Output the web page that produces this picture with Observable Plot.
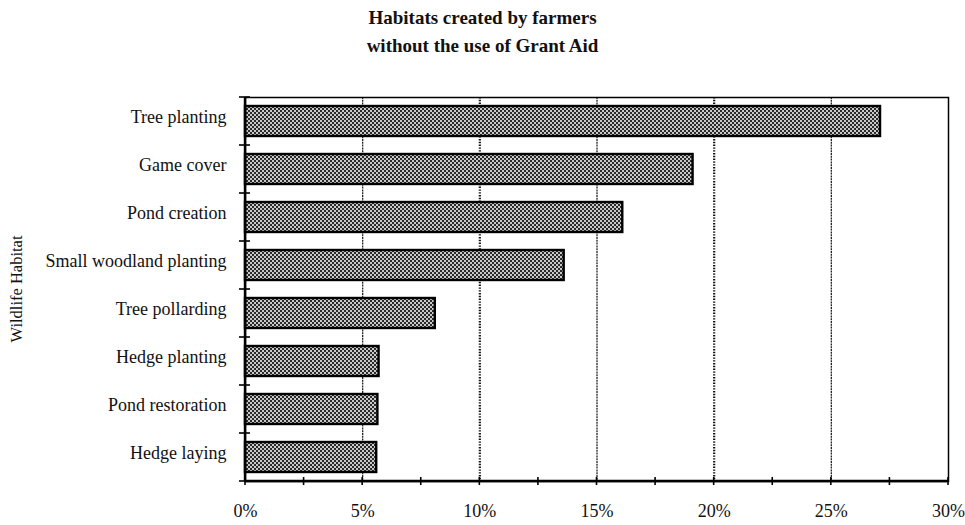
<!DOCTYPE html>
<html>
<head>
<meta charset="utf-8">
<script src="https://cdn.jsdelivr.net/npm/d3@7"></script>
<script src="https://cdn.jsdelivr.net/npm/@observablehq/plot@0.6"></script>
<style>
  body { margin: 0; background: #fff; }
  #title {
    width: 965px; height: 62px; box-sizing: border-box; padding-top: 4px;
    text-align: center; font: bold 19px/28px "Liberation Serif", "Times New Roman", serif;
    color: #111;
  }
</style>
</head>
<body>
<div id="title">Habitats created by farmers<br>without the use of Grant Aid</div>
<div id="chart"></div>
<script>
// Share of farmers creating each habitat without grant aid (%)
const habitats = [
  "Tree planting",
  "Game cover",
  "Pond creation",
  "Small woodland planting",
  "Tree pollarding",
  "Hedge planting",
  "Pond restoration",
  "Hedge laying"
];
const shares = [27.1, 19.1, 16.1, 13.6, 8.1, 5.7, 5.65, 5.6];

const xTicks = [0, 5, 10, 15, 20, 25, 30];
const xTickLabels = ["0%", "5%", "10%", "15%", "20%", "25%", "30%"];
const minorTicks = [0, 2.5, 5, 7.5, 10, 12.5, 15, 17.5, 20, 22.5, 25, 27.5, 30];
const fineGrid = [5, 15, 25];
const dottedGrid = [10, 20];
const axisTitle = "Wildlife Habitat";

const rows = habitats.map((habitat, i) => ({habitat, share: shares[i]}));

// Small tick marks straddling the bottom axis and the left axis between rows
function crossTicks(index, scales, values, dimensions) {
  const {height, marginTop, marginBottom, marginLeft} = dimensions;
  const g = d3.create("svg:g").attr("stroke", "#000").attr("stroke-width", 1.6);
  const yb = height - marginBottom;
  for (const t of minorTicks) {
    const x = scales.x(t);
    g.append("line").attr("x1", x).attr("x2", x).attr("y1", yb - 4).attr("y2", yb + 4);
  }
  const step = (height - marginTop - marginBottom) / habitats.length;
  for (let i = 0; i <= habitats.length; i++) {
    const y = marginTop + i * step;
    g.append("line").attr("x1", marginLeft - 6).attr("x2", marginLeft + 5).attr("y1", y).attr("y2", y);
  }
  return g.node();
}

const W = 965, H = 463, mt = 35, mb = 44, ml = 245, mr = 17;

const svg = Plot.plot({
  width: W,
  height: H,
  marginTop: mt,
  marginBottom: mb,
  marginLeft: ml,
  marginRight: mr,
  style: {fontFamily: "'Liberation Serif', 'Times New Roman', serif", fontSize: "18px", color: "#111", background: "#fff"},
  x: {domain: [0, 30]},
  y: {domain: habitats, paddingInner: 0.37, paddingOuter: 0.185},
  marks: [
    Plot.ruleX(fineGrid, {stroke: "#222", strokeWidth: 1.3, strokeDasharray: "2,0.8"}),
    Plot.ruleX(dottedGrid, {stroke: "#111", strokeWidth: 2.2, strokeDasharray: "1.4,1.4"}),
    Plot.barX(rows, {x: "share", y: "habitat", fill: "url(#checker)", stroke: "#000", strokeWidth: 2.4}),
    Plot.frame({stroke: "#000", strokeWidth: 1.5}),
    crossTicks,
    Plot.axisX(xTicks, {anchor: "bottom", tickSize: 0, tickPadding: 23, tickFormat: (d, i) => xTickLabels[i], fontSize: 18, label: null}),
    Plot.axisY({anchor: "left", tickSize: 0, tickPadding: 19, dy: -4, fontSize: 18, label: null})
  ]
});

// Fine checkered fill for the bars
svg.insertAdjacentHTML("afterbegin",
  '<defs><pattern id="checker" width="4" height="4" patternUnits="userSpaceOnUse">' +
  '<rect width="4" height="4" fill="#c8c8c8"/>' +
  '<rect width="2" height="2" fill="#2a2a2a"/>' +
  '<rect x="2" y="2" width="2" height="2" fill="#2a2a2a"/>' +
  '</pattern></defs>');

const root = d3.select(svg);

// Heavier bottom and left axis lines
const axisLines = root.append("g").attr("stroke", "#000").attr("stroke-width", 2.4);
axisLines.append("line").attr("x1", ml).attr("x2", W - mr).attr("y1", H - mb).attr("y2", H - mb);
axisLines.append("line").attr("x1", ml).attr("x2", ml).attr("y1", mt).attr("y2", H - mb);

// Rotated y-axis title, centred on the plot area
root.append("text")
  .attr("transform", `translate(18,${(mt + H - mb) / 2}) rotate(-90)`)
  .attr("text-anchor", "middle")
  .attr("dominant-baseline", "middle")
  .attr("font-size", 16.5)
  .attr("fill", "#111")
  .text(axisTitle);

document.getElementById("chart").appendChild(svg);
</script>
</body>
</html>
